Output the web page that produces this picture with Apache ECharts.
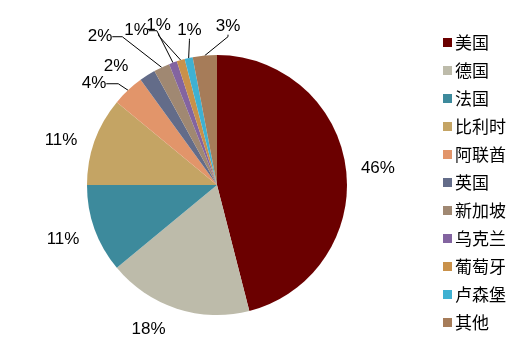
<!DOCTYPE html>
<html>
<head>
<meta charset="utf-8">
<script src="https://cdn.jsdelivr.net/npm/echarts@6/dist/echarts.min.js"></script>
<style>
  html, body { margin: 0; padding: 0; background: #fff; }
  #chart { width: 531px; height: 353px; }
</style>
</head>
<body>
<div id="chart"></div>
<script>
const countries = ["美国", "德国", "法国", "比利时", "阿联酋", "英国", "新加坡", "乌克兰", "葡萄牙", "卢森堡", "其他"];
const shares = [46, 18, 11, 11, 4, 2, 2, 1, 1, 1, 3];
const colors = ["#6b0000", "#bdbbaa", "#3d8a9c", "#c4a464", "#e2956a", "#636c89", "#a08872", "#8364a0", "#c9914a", "#3fb1d2", "#a67c59"];
// leader line lengths per slice (first, second segment); null = no line
const leaders = [null, null, null, null, [3, 12], null, [30, 10], [29, 8], [29, 2], [18, 2], [22, 2]];
// small label nudges from the default spot, in px
const nudges = [[-7, 1.5], [2.5, 9.5], [6, 6], [4, 3.3], [-3.7, -4.3], [-2.6, 1.5], [-22.6, -3.5], [-2.3, -4.7], [4.2, -7.2], [23, -10.3], [43.6, -7.5]];

document.addEventListener("DOMContentLoaded", function () {
  const chart = echarts.init(document.getElementById("chart"));
  const option = {
    animation: false,
    color: colors,
    legend: {
      orient: "vertical",
      left: 438,
      top: 29,
      icon: "rect",
      itemWidth: 9,
      itemHeight: 9,
      itemGap: 11,
      textStyle: {
        fontSize: 17,
        color: "#000",
        fontFamily: "Noto Sans CJK SC",
        padding: [0, 0, 0, -2]
      },
      data: countries
    },
    series: [
      {
        type: "pie",
        center: [217, 185],
        radius: 130,
        startAngle: 90,
        clockwise: true,
        avoidLabelOverlap: false,
        label: {
          show: true,
          formatter: "{c}%",
          fontSize: 17,
          color: "#000",
          fontFamily: "Liberation Sans",
          distanceToLabelLine: 4
        },
        labelLine: {
          show: true,
          length: 12,
          length2: 6,
          smooth: false,
          lineStyle: { color: "#000", width: 1 }
        },
        labelLayout: function (p) {
          const r = p.labelRect;
          const n = nudges[p.dataIndex];
          return {
            x: r.x + r.width / 2 + n[0],
            y: r.y + r.height / 2 + n[1],
            align: "center",
            verticalAlign: "middle",
            hideOverlap: false
          };
        },
        data: countries.map(function (name, i) {
          const l = leaders[i];
          return {
            name: name,
            value: shares[i],
            labelLine: l ? { show: true, length: l[0], length2: l[1] } : { show: false }
          };
        })
      }
    ]
  };
  chart.setOption(option);

  window.addEventListener("resize", () => {
    chart.resize();
  });
});
</script>
</body>
</html>
